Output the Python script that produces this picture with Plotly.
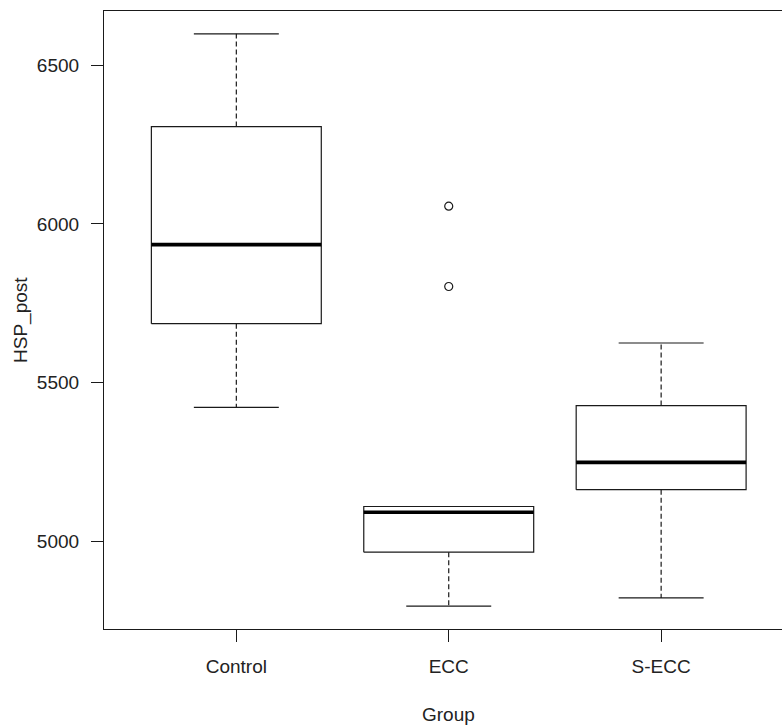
import plotly.graph_objects as go

# Five-number summaries of HSP_post by group
groups = ["Control", "ECC", "S-ECC"]
lower_whisker = [5422, 4796, 4822]
q1 = [5686, 4966, 5163]
median = [5935, 5092, 5249]
q3 = [6307, 5110, 5428]
upper_whisker = [6599, 5110, 5625]
# Outlying observations (group index, value)
outlier_group = [2, 2]
outlier_value = [6056, 5803]

y_ticks = [5000, 5500, 6000, 6500]

INK = "#1a1a1a"
BOX_HALF = 0.4
CAP_HALF = 0.2

fig = go.Figure()

for i, name in enumerate(groups):
    c = i + 1
    # box outline
    fig.add_trace(go.Scatter(
        x=[c - BOX_HALF, c + BOX_HALF, c + BOX_HALF, c - BOX_HALF, c - BOX_HALF],
        y=[q1[i], q1[i], q3[i], q3[i], q1[i]],
        mode="lines", line=dict(color=INK, width=1.2),
        hoverinfo="skip", showlegend=False))
    # median bar
    fig.add_trace(go.Scatter(
        x=[c - BOX_HALF, c + BOX_HALF], y=[median[i], median[i]],
        mode="lines", line=dict(color="#000000", width=3.6),
        hoverinfo="skip", showlegend=False))
    # dashed whiskers
    for a, b in ((q3[i], upper_whisker[i]), (q1[i], lower_whisker[i])):
        if a != b:
            fig.add_trace(go.Scatter(
                x=[c, c], y=[a, b], mode="lines",
                line=dict(color=INK, width=1.2, dash="5px,3px"),
                hoverinfo="skip", showlegend=False))
    # whisker caps
    for v in (upper_whisker[i], lower_whisker[i]):
        fig.add_trace(go.Scatter(
            x=[c - CAP_HALF, c + CAP_HALF], y=[v, v], mode="lines",
            line=dict(color=INK, width=1.2),
            hoverinfo="skip", showlegend=False))

fig.add_trace(go.Scatter(
    x=outlier_group, y=outlier_value, mode="markers",
    marker=dict(symbol="circle-open", size=8, color=INK, line=dict(width=1.2)),
    hoverinfo="skip", showlegend=False))

font = dict(family="Liberation Sans, Arial, sans-serif", size=19, color="#222222")

fig.update_layout(
    width=782, height=725,
    margin=dict(l=104, r=0, t=11, b=96),
    paper_bgcolor="white", plot_bgcolor="white",
    font=font,
    xaxis=dict(
        range=[0.377, 3.569], tickvals=[1, 2, 3], ticktext=groups,
        showgrid=False, zeroline=False,
        showline=True, mirror=True, linecolor=INK, linewidth=1.2,
        ticks="outside", ticklen=12, tickwidth=1.2, tickcolor=INK,
        ticklabelstandoff=8,
    ),
    yaxis=dict(
        range=[4724, 6671], tickvals=y_ticks, ticktext=[str(t) for t in y_ticks],
        showgrid=False, zeroline=False,
        showline=True, mirror=False, linecolor=INK, linewidth=1.2,
        ticks="outside", ticklen=12, tickwidth=1.2, tickcolor=INK,
        ticklabelstandoff=8,
    ),
    annotations=[
        dict(text="Group", xref="x", x=2, yref="paper", y=0, yshift=-85,
             xanchor="center", yanchor="middle", showarrow=False, font=font),
        dict(text="HSP_post", xref="paper", x=0, xshift=-83, yref="paper", y=0.5,
             xanchor="center", yanchor="middle", textangle=-90, showarrow=False,
             font=font),
    ],
)

fig.write_html("out.html")
